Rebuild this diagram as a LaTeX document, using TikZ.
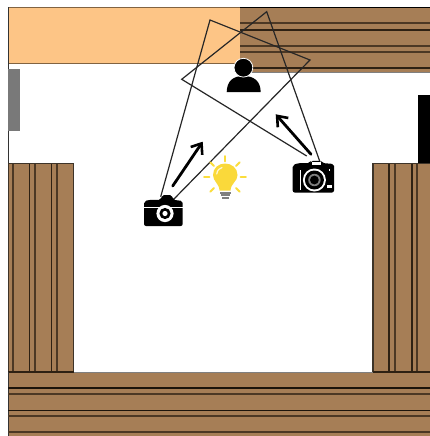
\documentclass[tikz,border=0pt]{standalone}
\usetikzlibrary{arrows.meta}
\definecolor{wood}{HTML}{A67E56}
\definecolor{peach}{HTML}{FDC586}
\definecolor{plank}{HTML}{2E2113}
\definecolor{rayy}{HTML}{FBDD3C}
\definecolor{glass}{HTML}{FAD93A}
\tikzset{
  woodbox/.style={fill=wood,draw=plank!80!gray,line width=1.2pt},
  plankline/.style={draw=plank,line width=1.6pt},
  plankthin/.style={draw=plank!75!wood,line width=1.6pt},
  frustum/.style={draw=black!85,line width=1.2pt,line join=miter},
  moveArrow/.style={draw=black,line width=2.8pt,line cap=round,-{Straight Barb[length=9pt,width=14pt,line width=2.6pt]}},
  bulbray/.style={draw=rayy,line width=1.8pt,line cap=round}
}
\begin{document}
\begin{tikzpicture}[x=1pt,y=-1pt]
\useasboundingbox (0,0) rectangle (430,436);
\fill[white] (0,0) rectangle (430,436);
% window / warm area
\draw[fill=peach,draw=plank!60!peach,line width=.9pt] (8,7.5) rectangle (240,63);
% top wood wall
\fill[wood] (240,7.5) rectangle (430,72.5);
\draw[black,line width=1.3pt] (240,7.5) -- (430,7.5);
\draw[plankthin] (240,23) -- (430,23);
\draw[plankline] (240,30) -- (430,30);
\draw[plankthin] (240,46) -- (430,46);
\draw[plankthin] (240,52) -- (430,52);
\draw[plankline] (240,68) -- (430,68);
\draw[gray,line width=.8pt] (240,72.7) -- (430,72.7);
% left wall line
\draw[black!80,line width=1pt] (8,7.5) -- (8,436);
% gray and black doors
\fill[gray!95!black] (8.4,68.5) rectangle (20.3,130.5);
\fill[black] (417.5,95) rectangle (430,163);
% columns
\draw[woodbox] (8.4,163.3) rectangle (73.5,372);
\foreach \v in {13,35,57}{\draw[plankthin] (\v,163.5) -- (\v,372);}
\foreach \v in {29.5,51.5}{\draw[plankline] (\v,163.5) -- (\v,372);}
\draw[woodbox] (373,163.3) rectangle (432,372);
\foreach \v in {395,417}{\draw[plankthin] (\v,163.5) -- (\v,372);}
\foreach \v in {389,412}{\draw[plankline] (\v,163.5) -- (\v,372);}
% bottom wall
\fill[wood] (8.4,372) rectangle (430,436);
\draw[plank,line width=1.2pt] (8.4,372) -- (73.5,372);
\draw[plank,line width=1.2pt] (373,372) -- (430,372);
\draw[gray,line width=.9pt] (73.5,372) -- (373,372);
\draw[black!80,line width=1pt] (8,372) -- (8,436);
\foreach \v in {388,410.7}{\draw[plank!60!black,line width=1.4pt] (8.4,\v) -- (430,\v);}
\foreach \v in {394,416,431.7}{\draw[plankthin] (8.4,\v) -- (430,\v);}
% person
\fill[black] (226.7,92) .. controls (227,81) and (233,76) .. (243.5,76) .. controls (254,76) and (260.5,81) .. (260.7,92) -- cycle;
\draw[fill=black,draw=white,line width=.8pt] (243.4,67.7) circle (9.4);
% view frustums
\coordinate (la) at (160.7,196.7);
\coordinate (lb) at (173,200);
\coordinate (lc) at (210,20);
\coordinate (ld) at (310,60);
\coordinate (ra) at (320,162);
\coordinate (rb) at (306.7,156);
\coordinate (rc) at (266.7,11.7);
\coordinate (rd) at (181.7,79.3);
\draw[frustum] (la) -- (lc) -- (ld) -- (lb);
\draw[frustum] (ra) -- (rc) -- (rd) -- (rb);
% motion arrows
\coordinate (a1) at (172.7,186);
\coordinate (a2) at (202.7,141.7);
\coordinate (a3) at (311,154.3);
\coordinate (a4) at (275.7,114.3);
\draw[moveArrow] (a1) -- (a2);
\draw[moveArrow] (a3) -- (a4);
% light bulb
\foreach \a in {0,45,135,180,225,315,270}{\draw[bulbray] (225,177)++(\a:15.5) -- ++(\a:5.5);}
\fill[glass] (219.5,190.5) .. controls (219,183) and (213,181.5) .. (213,175) .. controls (213,168) and (218.5,163.5) .. (225,163.5) .. controls (231.5,163.5) and (237.5,168) .. (237.5,175) .. controls (237.5,181.5) and (231,183) .. (230.5,190.5) -- cycle;
\draw[white,line width=1.2pt,line cap=round,opacity=.8] (216.8,174) .. controls (217,170.5) and (219.5,168) .. (222,167.5);
\fill[black!50] (220,191.5) rectangle (230.5,193.6);
\fill[black!50] (220.5,194.3) rectangle (230,196.4);
\fill[black!50] (222,197) rectangle (228.5,199);
% left camera
\fill[black,rounded corners=2pt] (144,226) -- (144,201.5) -- (149,199.8) -- (161,199.8) -- (162,195) -- (172,195) -- (173,199.8) -- (182.7,201) -- (182.7,226) -- cycle;
\fill[white] (144,206.8) rectangle (182.7,208);
\fill[white] (165,213.5) circle (8.6);
\fill[black] (165,213.5) circle (5.6);
\fill[white] (165,213.5) circle (2.6);
% right camera
\fill[black,rounded corners=2pt] (292.7,192.5) -- (292.7,165) -- (299,163) -- (310,163) -- (311,160.8) -- (321,160.8) -- (322,163) -- (334,164) -- (334,192.5) -- cycle;
\fill[white] (311.5,162) rectangle (320.5,164.5);
\fill[white] (299.5,170) rectangle (301,190);
\fill[white] (314.4,180) circle (11.5);
\fill[black] (314.4,180) circle (9.5);
\fill[black!50] (314.4,180) circle (6.2);
\fill[black] (314.4,180) circle (4.4);
\fill[white] (327,185.2) rectangle (332,188);
\fill[white] (329,169) rectangle (330.3,171);
\end{tikzpicture}
\end{document}
